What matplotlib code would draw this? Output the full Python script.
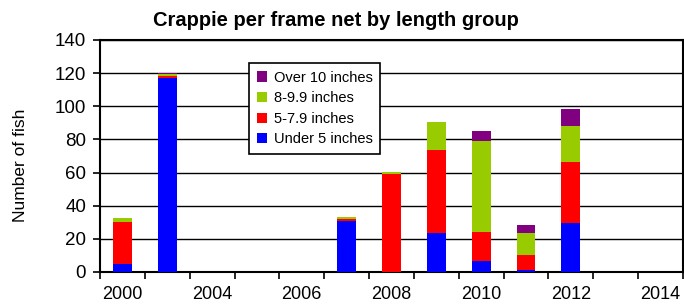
import matplotlib
matplotlib.use("Agg")
import matplotlib.pyplot as plt
import numpy as np

plt.rcParams["font.family"] = ["Liberation Sans", "DejaVu Sans"]

years = ["2000", "2002", "2004", "2005", "2006", "2007", "2008", "2009", "2010", "2011", "2012", "2013", "2014"]
under5 = [5, 117, 0, 0, 0, 31, 0, 23.5, 6.5, 1, 29.5, 0, 0]
s5_79 = [25.3, 1.5, 0, 0, 0, 0.8, 59, 50.4, 17.5, 9, 37, 0, 0]
s8_99 = [2.4, 1, 0, 0, 0, 1.6, 1.2, 16.8, 55.2, 13.4, 21.8, 0, 0]
over10 = [0, 0.5, 0, 0, 0, 0, 0, 0, 6.1, 4.8, 10.3, 0, 0]
labels = ["Under 5 inches", "5-7.9 inches", "8-9.9 inches", "Over 10 inches"]
colors = ["#0000FF", "#FF0000", "#99CC00", "#800080"]
shown_labels = ["2000", "2004", "2006", "2008", "2010", "2012", "2014"]

fig = plt.figure(figsize=(6.84, 3.08), dpi=100)
ax = fig.add_axes([100/684, 1 - 272/308, 583/684, 232/308])

x = np.arange(len(years))
bottom = np.zeros(len(years))
handles = []
for vals, lab, col in zip([under5, s5_79, s8_99, over10], labels, colors):
    v = np.array(vals, dtype=float)
    h = ax.bar(x, v, bottom=bottom, width=0.42, color=col, label=lab, zorder=3)
    handles.append(h)
    bottom += v

ax.set_xlim(-0.5, len(years) - 0.5)
ax.set_ylim(0, 140)
ax.set_yticks(np.arange(0, 141, 20))
ax.yaxis.grid(True, color="black", linewidth=1.0, zorder=0)
ax.set_axisbelow(True)

pos = [years.index(s) for s in shown_labels]
ax.set_xticks(pos)
ax.set_xticklabels(shown_labels)
ax.set_xticks(np.arange(-0.5, len(years), 1.0), minor=True)
ax.tick_params(axis="x", which="major", length=0, pad=10, labelsize=13)
ax.tick_params(axis="x", which="minor", length=5, width=1.2, direction="out")
ax.tick_params(axis="y", length=5, width=1.2, direction="out", labelsize=13.5, pad=5)

for sp in ax.spines.values():
    sp.set_linewidth(1.5)
    sp.set_color("black")

fig.text(21/684, 1 - 165/308, "Number of fish", rotation=90,
         ha="center", va="center", fontsize=12.5)
fig.text(336/684, 1 - 21/308, "Crappie per frame net by length group",
         ha="center", va="center", fontsize=14.5, fontweight="bold")

leg = ax.legend(handles=handles[::-1], labels=labels[::-1],
                loc="upper left", bbox_to_anchor=(242/684, 1 - 56/308),
                bbox_transform=fig.transFigure, fontsize=10.5, frameon=True,
                fancybox=False, edgecolor="black", framealpha=1,
                handlelength=0.7, handleheight=0.7, handletextpad=0.5,
                labelspacing=0.45, borderpad=0.5)
leg.get_frame().set_linewidth(1.2)
leg.set_zorder(5)

fig.savefig("out.png", dpi=100)
